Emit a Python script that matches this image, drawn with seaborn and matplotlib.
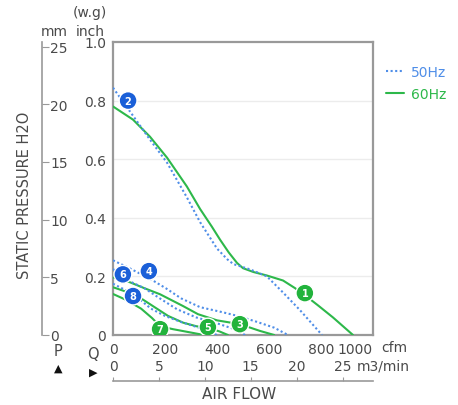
import matplotlib
matplotlib.use("Agg")
import matplotlib.pyplot as plt
from matplotlib.lines import Line2D
import seaborn as sns
import pandas as pd

# fan performance curves: air flow (cfm) vs static pressure (inch H2O)
# odd numbers = 60Hz (solid green), even numbers = 50Hz (dotted blue)
flow_1 = [0, 77, 142, 208, 284, 335, 380, 412, 445, 477, 500, 540, 592, 654, 700, 738, 790, 846, 923]
pres_1 = [0.78, 0.735, 0.677, 0.605, 0.507, 0.43, 0.37, 0.325, 0.282, 0.246, 0.228, 0.215, 0.203, 0.186, 0.16, 0.136, 0.1, 0.06, 0]

flow_2 = [0, 58, 142, 208, 284, 335, 400, 440, 463, 527, 592, 654, 719, 804]
pres_2 = [0.844, 0.772, 0.667, 0.588, 0.47, 0.385, 0.295, 0.258, 0.242, 0.224, 0.2, 0.145, 0.085, 0]

flow_3 = [0, 65, 120, 181, 269, 327, 400, 488, 565, 620]
pres_3 = [0.197, 0.18, 0.16, 0.139, 0.099, 0.071, 0.05, 0.037, 0.014, 0]

flow_4 = [0, 70, 146, 206, 262, 335, 420, 480, 553, 620, 673]
pres_4 = [0.255, 0.225, 0.19, 0.158, 0.125, 0.095, 0.078, 0.065, 0.045, 0.025, 0]

flow_5 = [0, 60, 108, 160, 212, 270, 320, 365, 410, 442]
pres_5 = [0.163, 0.145, 0.125, 0.095, 0.065, 0.042, 0.03, 0.025, 0.012, 0]

flow_6 = [0, 60, 120, 180, 246, 320, 400, 460, 508]
pres_6 = [0.225, 0.185, 0.16, 0.125, 0.088, 0.06, 0.04, 0.022, 0]

flow_7 = [0, 50, 108, 150, 181, 230, 290, 350]
pres_7 = [0.14, 0.12, 0.09, 0.058, 0.03, 0.02, 0.01, 0]

flow_8 = [0, 77, 146, 200, 260, 330, 400]
pres_8 = [0.175, 0.14, 0.09, 0.065, 0.045, 0.025, 0]

# numbered badges on the curves
badge_num = [1, 2, 3, 4, 5, 6, 7, 8]
badge_flow = [738, 58, 488, 138, 365, 38, 181, 77]
badge_pres = [0.143, 0.80, 0.037, 0.218, 0.027, 0.207, 0.02, 0.133]

inch_ticks = [0, 0.2, 0.4, 0.6, 0.8, 1.0]
inch_labels = ["0", "0.2", "0.4", "0.6", "0.8", "1.0"]
mm_ticks = [0, 5, 10, 15, 20, 25]
cfm_ticks = [0, 200, 400, 600, 800, 1000]
m3_ticks = [0, 5, 10, 15, 20, 25]

curves = [(flow_1, pres_1), (flow_2, pres_2), (flow_3, pres_3), (flow_4, pres_4),
          (flow_5, pres_5), (flow_6, pres_6), (flow_7, pres_7), (flow_8, pres_8)]
rows = []
for i, (fl, pr) in enumerate(curves, start=1):
    hz = "60Hz" if i % 2 == 1 else "50Hz"
    for f, p in zip(fl, pr):
        rows.append({"curve": i, "hz": hz, "flow": f, "pressure": p})
df = pd.DataFrame(rows)

badges = pd.DataFrame({"num": badge_num, "flow": badge_flow, "pressure": badge_pres})
badges["hz"] = ["60Hz" if n % 2 == 1 else "50Hz" for n in badge_num]

sns.set_style("white")
plt.rcParams["font.family"] = ["DejaVu Sans"]

TXT = "#4a4a4a"
GRAY = "#999999"
line_col = {"50Hz": "#4f8ee8", "60Hz": "#2db84a"}
badge_col = {"50Hz": "#1a5fd8", "60Hz": "#22b33c"}

W, H = 458, 406
fig = plt.figure(figsize=(W / 100, H / 100), dpi=100)

def fx(px):
    return px / W

def fy(py):
    return 1 - py / H

L, R, T, B = 113, 373, 43, 336
ax = fig.add_axes([fx(L), fy(B), (R - L) / W, (B - T) / H])

ax.set_axisbelow(True)
for v in inch_ticks[1:-1]:
    ax.axhline(v, color="#ececec", lw=1, zorder=0)

sns.lineplot(data=df, x="flow", y="pressure", hue="hz", units="curve", estimator=None,
             style="hz", dashes={"50Hz": (1, 1.2), "60Hz": ""}, palette=line_col,
             linewidth=1.5, sort=False, legend=False, ax=ax, zorder=3)

sns.scatterplot(data=badges, x="flow", y="pressure", hue="hz", palette=badge_col,
                s=165, edgecolor="white", linewidth=1.0, legend=False, ax=ax, zorder=5)
for _, r in badges.iterrows():
    ax.text(r["flow"], r["pressure"], str(r["num"]), color="white", fontsize=7,
            fontweight="bold", ha="center", va="center", zorder=6)

ax.set_xlim(0, 1000)
ax.set_ylim(0, 1.0)
ax.set_xticks(cfm_ticks)
ax.set_yticks(inch_ticks)
ax.set_yticklabels(inch_labels)
ax.tick_params(axis="both", length=0, labelsize=10, labelcolor=TXT)
ax.tick_params(axis="x", pad=5)
ax.tick_params(axis="y", pad=5)
ax.get_xticklabels()[-1].set_ha("right")
ax.set_xlabel("")
ax.set_ylabel("")
for s in ax.spines.values():
    s.set_color(GRAY)
    s.set_linewidth(1.6)
    s.set_visible(True)

# mm scale on the far left
axm = fig.add_axes([fx(42), fy(B), 1e-4, (B - T) / H])
axm.set_ylim(0, 25.4)
axm.patch.set_visible(False)
for k, s in axm.spines.items():
    s.set_visible(k == "right")
axm.spines["right"].set_color(GRAY)
axm.spines["right"].set_linewidth(1.2)
axm.yaxis.tick_right()
axm.set_yticks(mm_ticks)
axm.set_xticks([])
axm.tick_params(axis="y", direction="out", length=5, color=GRAY, labelsize=10,
                labelcolor=TXT, pad=1)

# m3/min scale below
axq = fig.add_axes([fx(L), fy(382), (R - L) / W, 1e-4])
axq.set_xlim(0, 1000 / 35.3147)
axq.patch.set_visible(False)
for k, s in axq.spines.items():
    s.set_visible(k == "top")
axq.spines["top"].set_color(GRAY)
axq.spines["top"].set_linewidth(1.2)
axq.xaxis.tick_top()
axq.set_xticks(m3_ticks)
axq.set_yticks([])
axq.tick_params(axis="x", direction="out", length=3, color=GRAY, labelsize=10,
                labelcolor=TXT, pad=3)

fig.text(fx(25), fy(195), "STATIC PRESSURE H2O", rotation=90, ha="center", va="center",
         fontsize=10.5, color=TXT)
fig.text(fx(54), fy(32), "mm", ha="center", va="center", fontsize=10, color=TXT)
fig.text(fx(90), fy(32), "inch", ha="center", va="center", fontsize=10, color=TXT)
fig.text(fx(90), fy(13), "(w.g)", ha="center", va="center", fontsize=10, color=TXT)
fig.text(fx(58), fy(352), "P", ha="center", va="center", fontsize=10.5, color=TXT)
fig.text(fx(58), fy(369), "▲", ha="center", va="center", fontsize=8, color="#111111")
fig.text(fx(93), fy(355), "Q", ha="center", va="center", fontsize=10.5, color=TXT)
fig.text(fx(93), fy(373), "▶", ha="center", va="center", fontsize=8, color="#111111")
fig.text(fx(381), fy(348), "cfm", ha="left", va="center", fontsize=10, color=TXT)
fig.text(fx(357), fy(367), "m3/min", ha="left", va="center", fontsize=10, color=TXT)
fig.text(fx(239), fy(395), "AIR FLOW", ha="center", va="center", fontsize=11, color=TXT)

handles = [Line2D([], [], color=line_col["50Hz"], lw=1.5, dashes=(1, 1.2)),
           Line2D([], [], color=line_col["60Hz"], lw=1.5)]
ax.legend(handles, ["50Hz", "60Hz"], loc="upper left", bbox_to_anchor=(fx(386), fy(66)),
          bbox_transform=fig.transFigure, frameon=False, handlelength=1.3,
          handletextpad=0.5, labelspacing=0.6, fontsize=10,
          labelcolor=[line_col["50Hz"], line_col["60Hz"]], borderaxespad=0, borderpad=0)

fig.savefig("out.png", dpi=100)
